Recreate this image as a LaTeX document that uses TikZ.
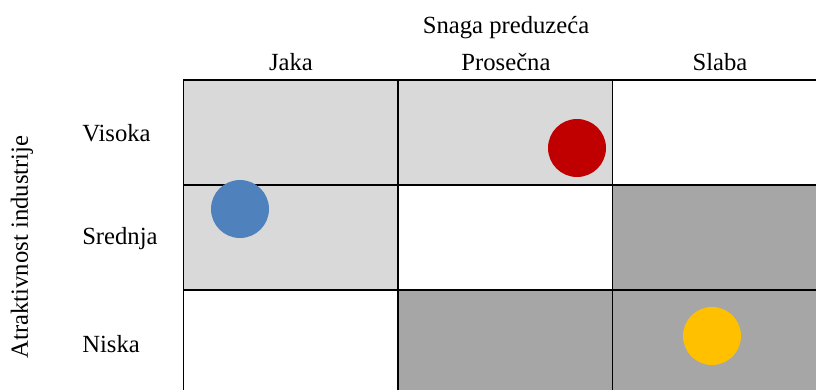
\documentclass[tikz,border=0pt]{standalone}
\usepackage{fontspec}
\setmainfont{Liberation Serif}
\usetikzlibrary{positioning}
\definecolor{lightcell}{HTML}{D9D9D9}
\definecolor{darkcell}{HTML}{A6A6A6}
\definecolor{dotred}{HTML}{C00000}
\definecolor{dotblue}{HTML}{4F81BD}
\definecolor{dotyellow}{HTML}{FFC000}

\begin{document}
\begin{tikzpicture}[x=0.75pt, y=-0.75pt,
        cell/.style={rectangle, minimum width=160.9pt, minimum height=78.75pt, inner sep=0pt, outer sep=0pt},
        grid/.style={draw=black, line width=1.3pt},
        axistext/.style={font=\fontsize{18.5}{22}\selectfont, inner sep=0pt},
        dot/.style={circle, minimum size=43.5pt, inner sep=0pt}
    ]
    \useasboundingbox (0,0) rectangle (816,389);
    \clip (0,0) rectangle (816,389);

    % Cells, row by row
    \foreach \r/\fa/\fb/\fc in {1/lightcell/lightcell/white, 2/lightcell/white/darkcell, 3/white/darkcell/darkcell} {
        \node[cell, fill=\fa] (c\r1) at (290.75, 27.5+105*\r) {};
        \node[cell, fill=\fb] (c\r2) at (505.25, 27.5+105*\r) {};
        \node[cell, fill=\fc] (c\r3) at (719.75, 27.5+105*\r) {};
    }
    % Borders on top
    \foreach \r in {1,2,3}
        \foreach \c in {1,2,3}
            \draw[grid] (c\r\c.north west) rectangle (c\r\c.south east);

    % Positions
    \node[dot, fill=dotred] (red) at (577,148) {};
    \node[dot, fill=dotblue] (blue) at (240,209) {};
    \node[dot, fill=dotyellow] (yellow) at (712,336) {};

    % Headings
    \node[axistext] (snaga) at (506,28) {Snaga preduzeća};
    \node[axistext] (jaka) at (291,62) {Jaka};
    \node[axistext] (prosecna) at (506,62) {Prosečna};
    \node[axistext] (slaba) at (720,62) {Slaba};

    \node[axistext, rotate=90] (atrakt) at (22,247) {Atraktivnost industrije};
    \node[axistext, anchor=west] (visoka) at (82,133) {Visoka};
    \node[axistext, anchor=west] (srednja) at (82,239) {Srednja};
    \node[axistext, anchor=west] (niska) at (82,344) {Niska};
\end{tikzpicture}
\end{document}
